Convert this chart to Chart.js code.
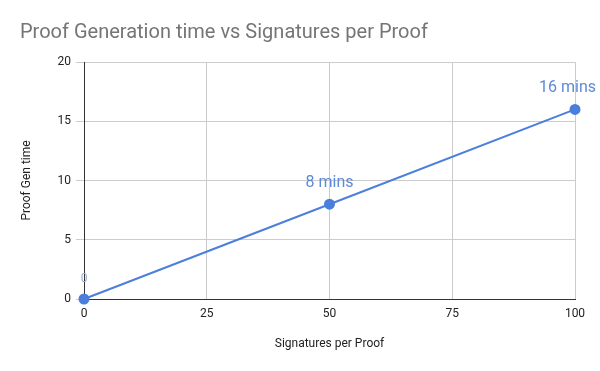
<!DOCTYPE html>
<html>
<head>
<meta charset="utf-8">
<script src="https://cdn.jsdelivr.net/npm/chart.js@4/dist/chart.umd.min.js"></script>
<style>
html,body{margin:0;padding:0;background:#fff;}
canvas{display:block;}
</style>
</head>
<body>
<canvas id="c" width="600" height="371"></canvas>
<script>
const chartTitle = 'Proof Generation time vs Signatures per Proof';
const signatures = [0, 50, 100];
const genTime = [0, 8, 16];
const pointLabels = ['0', '8 mins', '16 mins'];
const xTicks = [0, 25, 50, 75, 100];
const yTicks = [0, 5, 10, 15, 20];

const FONT = 'Roboto, "Liberation Sans", Arial, sans-serif';

const overlay = {
  id: 'overlay',
  afterDraw(chart) {
    const ctx = chart.ctx;
    ctx.save();
    ctx.font = '20px ' + FONT;
    ctx.fillStyle = '#757575';
    ctx.textAlign = 'left';
    ctx.textBaseline = 'alphabetic';
    ctx.fillText(chartTitle, 20, 38);
    const meta = chart.getDatasetMeta(0);
    meta.data.forEach((pt, i) => {
      const first = genTime[i] === 0;
      ctx.font = (first ? '12px ' : '16px ') + FONT;
      ctx.fillStyle = first ? '#98acd0' : '#5d8ad6';
      const w = ctx.measureText(pointLabels[i]).width;
      let x = pt.x;
      if (x + w / 2 > 596) x = 596 - w / 2;
      ctx.textAlign = 'center';
      ctx.fillText(pointLabels[i], x, pt.y - 17);
    });
    ctx.restore();
  }
};

new Chart(document.getElementById('c'), {
  type: 'scatter',
  data: {
    datasets: [{
      data: signatures.map((x, i) => ({x: x, y: genTime[i]})),
      showLine: true,
      borderColor: '#4a7fdc',
      backgroundColor: '#4a7fdc',
      borderWidth: 2,
      pointRadius: 4.5,
      pointHoverRadius: 4.5,
      clip: false
    }]
  },
  options: {
    responsive: false,
    animation: false,
    layout: {padding: {left: 0, top: 62, right: 25, bottom: 0}},
    plugins: {legend: {display: false}, tooltip: {enabled: false}, title: {display: false}},
    scales: {
      x: {
        type: 'linear', min: 0, max: 100,
        afterBuildTicks: s => { s.ticks = xTicks.map(v => ({value: v})); },
        afterFit: s => { s.height = 72; },
        grid: {color: '#cccccc', drawTicks: false},
        border: {color: '#333333', width: 1},
        ticks: {padding: 8, color: '#222222', font: {family: FONT, size: 12}, maxRotation: 0},
        title: {display: true, text: 'Signatures per Proof', color: '#222222', font: {family: FONT, size: 12}, padding: {top: 0, bottom: 20}}
      },
      y: {
        type: 'linear', min: 0, max: 20,
        afterBuildTicks: s => { s.ticks = yTicks.map(v => ({value: v})); },
        afterFit: s => { s.width = 84; },
        grid: {color: '#cccccc', tickLength: 8},
        border: {color: '#333333', width: 1},
        ticks: {padding: 5, color: '#222222', font: {family: FONT, size: 12}},
        title: {display: true, text: 'Proof Gen time', color: '#222222', font: {family: FONT, size: 12}, padding: {top: 20, bottom: 0}}
      }
    }
  },
  plugins: [overlay]
});
</script>
</body>
</html>
